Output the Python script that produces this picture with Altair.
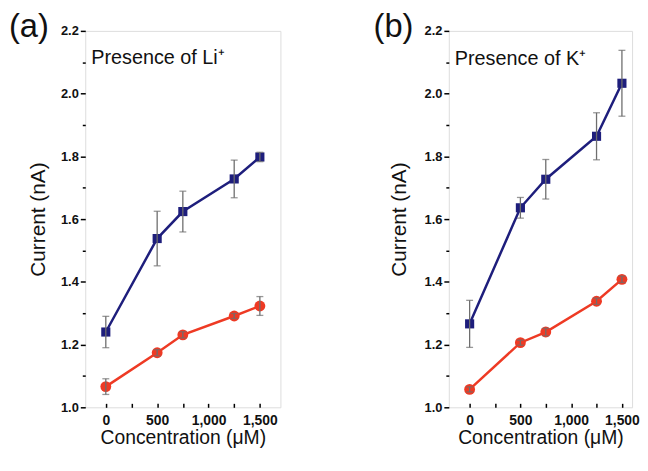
import altair as alt
import pandas as pd

# ---------------- data ----------------
conc = [0, 500, 750, 1250, 1500]

a_blue = [1.240, 1.538, 1.624, 1.728, 1.798]
a_blue_err = [0.050, 0.087, 0.065, 0.060, 0.015]
a_red = [1.066, 1.174, 1.231, 1.291, 1.323]
a_red_err = [0.025, 0.010, 0.010, 0.008, 0.030]

b_blue = [1.266, 1.636, 1.727, 1.864, 2.033]
b_blue_err = [0.075, 0.033, 0.063, 0.075, 0.105]
b_red = [1.057, 1.206, 1.240, 1.338, 1.408]
b_red_err = [0.008, 0.008, 0.012, 0.010, 0.010]

panel_labels = ["(a)", "(b)"]
panel_notes = ["Presence of Li\u207a", "Presence of K\u207a"]

x_ticks = [0, 250, 500, 750, 1000, 1250, 1500]
y_ticks = [1.0, 1.1, 1.2, 1.3, 1.4, 1.5, 1.6, 1.7, 1.8, 1.9, 2.0, 2.1, 2.2]

BLUE = "#1e1e7c"
RED = "#ee3a24"
GRAY = "#6e6e6e"
FONT = "Liberation Sans"

H = 380


def panel(blue, blue_err, red, red_err, label, note, w, xdom, lab_x, note_y, y_tp, x_lp, x_tp):
    rows = []
    for series, vals, errs in [("blue", blue, blue_err), ("red", red, red_err)]:
        for c, v, e in zip(conc, vals, errs):
            rows.append(dict(conc=c, cur=v, lo=v - e, hi=v + e, series=series))
    df = pd.DataFrame(rows)

    xs = alt.Scale(domain=xdom, nice=False, zero=False)
    ys = alt.Scale(domain=[1.0, 2.2], nice=False, zero=False)
    xaxis = alt.Axis(
        values=x_ticks,
        labelExpr="datum.value % 500 == 0 ? format(datum.value, ',') : ''",
        offset=-4, tickSize=4, tickWidth=1.5, tickColor="black",
        domain=False, grid=False,
        labelFont=FONT, labelFontSize=14, labelFontWeight="bold",
        labelColor="#111", labelPadding=x_lp,
        titleFont=FONT, titleFontSize=19.5, titleFontWeight="normal",
        titleColor="#111", titlePadding=x_tp,
    )
    yaxis = alt.Axis(
        values=y_ticks,
        labelExpr="round(datum.value*10) % 2 == 0 ? format(datum.value, '.1f') : ''",
        tickSize={"condition": {"test": "round(datum.value*10) % 2 == 1", "value": 3}, "value": 5},
        tickWidth=1.5, tickColor="black",
        domain=False, grid=False,
        labelFont=FONT, labelFontSize=13, labelFontWeight="bold",
        labelColor="#111", labelPadding=2,
        titleFont=FONT, titleFontSize=21, titleFontWeight="normal",
        titleColor="#111", titlePadding=y_tp,
    )

    def X():
        return alt.X("conc:Q", scale=xs, axis=xaxis, title="Concentration (\u03bcM)")

    def Y(field):
        return alt.Y(f"{field}:Q", scale=ys, axis=yaxis, title="Current (nA)")

    color = alt.Color("series:N", scale=alt.Scale(domain=["blue", "red"], range=[BLUE, RED]), legend=None)
    shape = alt.Shape("series:N", scale=alt.Scale(domain=["blue", "red"], range=["square", "circle"]), legend=None)
    size = alt.Size("series:N", scale=alt.Scale(domain=["blue", "red"], range=[85, 120]), legend=None)

    base = alt.Chart(df)
    lines = base.mark_line(strokeWidth=2.5).encode(x=X(), y=Y("cur"), color=color, detail="series:N")
    pts = base.mark_point(filled=True, opacity=1).encode(x=X(), y=Y("cur"), color=color, shape=shape, size=size)
    bars = base.mark_rule(color=GRAY, strokeWidth=1.3).encode(x=X(), y=Y("lo"), y2="hi:Q")
    cap_lo = base.mark_tick(color=GRAY, orient="horizontal", size=7, thickness=1.3).encode(x=X(), y=Y("lo"))
    cap_hi = base.mark_tick(color=GRAY, orient="horizontal", size=7, thickness=1.3).encode(x=X(), y=Y("hi"))

    tdf = pd.DataFrame({"lab": [label], "note": [note]})
    lab = alt.Chart(tdf).mark_text(font=FONT, fontSize=33, align="left", baseline="top", color="#111").encode(
        text="lab:N", x=alt.value(lab_x), y=alt.value(-20))
    nt = alt.Chart(tdf).mark_text(font=FONT, fontSize=20, align="left", baseline="alphabetic", color="#111").encode(
        text="note:N", x=alt.value(6), y=alt.value(note_y))

    return alt.layer(lines, pts, bars, cap_lo, cap_hi, lab, nt).properties(width=w, height=H)


pa = panel(a_blue, a_blue_err, a_red, a_red_err, panel_labels[0], panel_notes[0],
           197, [-200, 1700], -77, 33, 12, 6, 2)
pb = panel(b_blue, b_blue_err, b_red, b_red_err, panel_labels[1], panel_notes[1],
           185, [-205, 1600], -76, 34, 14.5, 6, 2)

chart = alt.hconcat(pa, pb, spacing=170, bounds="flush").properties(
    padding={"left": 0, "top": 0, "right": 0, "bottom": 0}
).configure_view(stroke="black", strokeWidth=1.8).configure(background="white")

chart.save("out.html", embed_options={"renderer": "svg", "actions": False})
